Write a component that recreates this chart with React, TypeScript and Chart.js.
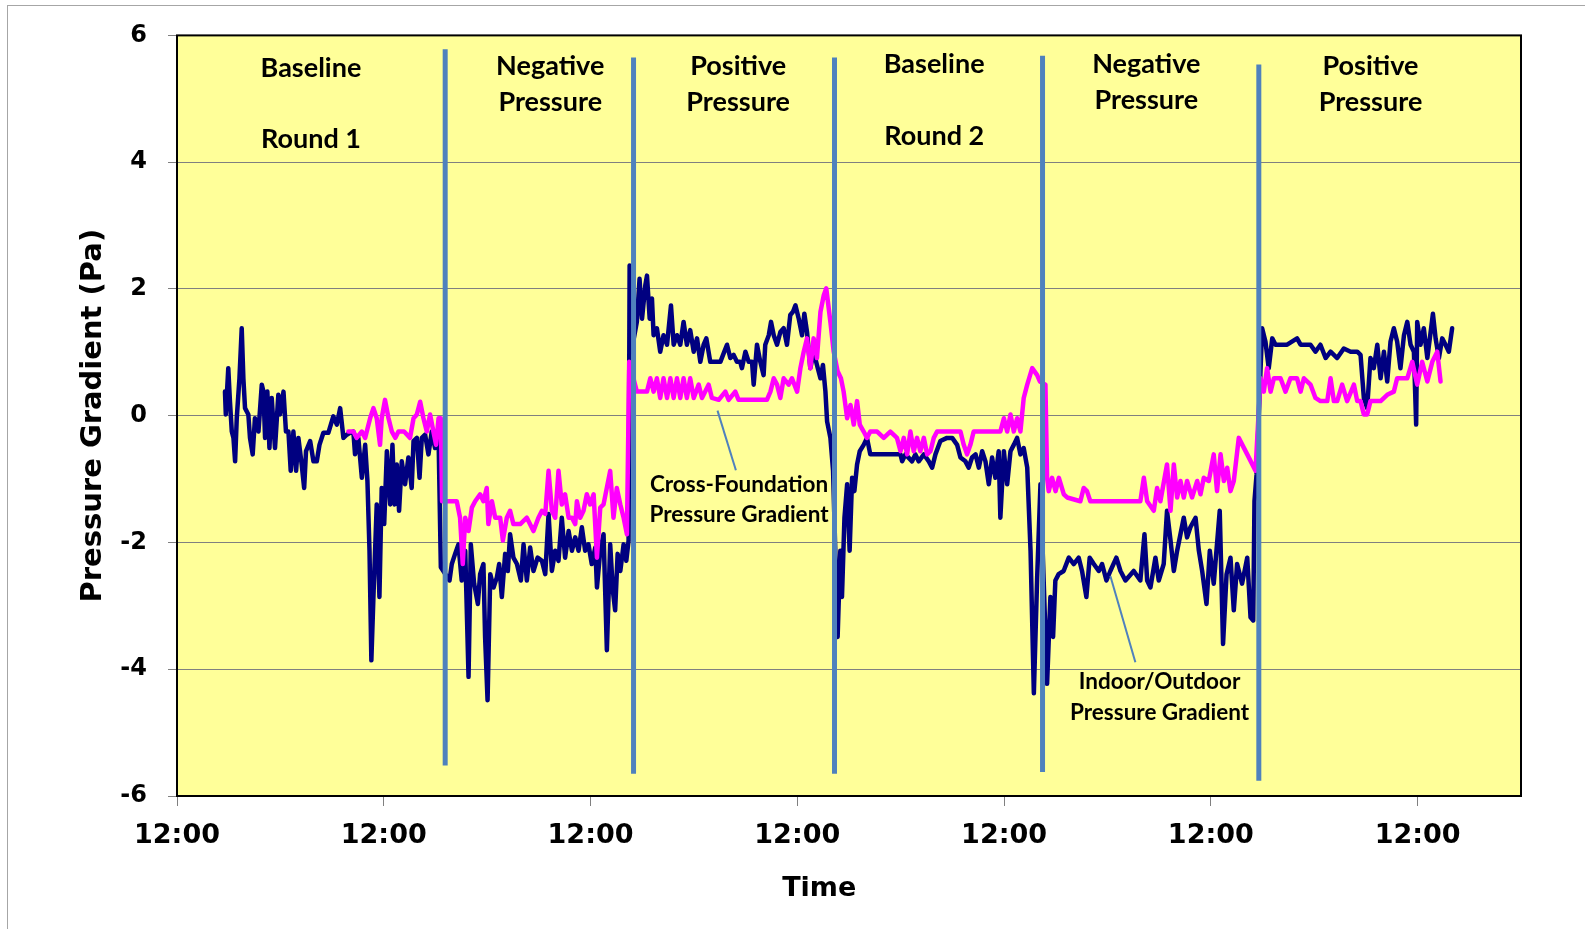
import React, { useEffect, useRef } from "react";
import { Chart, registerables } from "chart.js";

Chart.register(...registerables);

// ---------- DATA ----------
// x values are elapsed days since the first 12:00 tick
const xTickLabels = ["12:00", "12:00", "12:00", "12:00", "12:00", "12:00", "12:00"];

// Indoor/Outdoor pressure gradient (navy)
const ioTime = [
  0.232, 0.236, 0.248, 0.256, 0.265, 0.273, 0.281, 0.289, 0.302, 0.313,
  0.321, 0.329, 0.345, 0.353, 0.366, 0.377, 0.394, 0.41, 0.418, 0.426,
  0.437, 0.447, 0.458, 0.474, 0.49, 0.498, 0.515, 0.527, 0.539, 0.55,
  0.563, 0.576, 0.587, 0.603, 0.615, 0.624, 0.644, 0.66, 0.676, 0.689,
  0.708, 0.732, 0.756, 0.773, 0.789, 0.805, 0.821, 0.837, 0.853, 0.861,
  0.877, 0.894, 0.91, 0.921, 0.931, 0.94, 0.95, 0.966, 0.979, 0.99,
  1.002, 1.015, 1.031, 1.042, 1.052, 1.063, 1.074, 1.087, 1.103, 1.119,
  1.135, 1.144, 1.16, 1.173, 1.184, 1.2, 1.216, 1.232, 1.248, 1.265,
  1.276, 1.318, 1.329, 1.345, 1.361, 1.377, 1.394, 1.41, 1.421, 1.437,
  1.455, 1.466, 1.482, 1.49, 1.502, 1.515, 1.531, 1.547, 1.558, 1.571,
  1.587, 1.6, 1.611, 1.627, 1.644, 1.663, 1.676, 1.692, 1.708, 1.724,
  1.744, 1.765, 1.781, 1.797, 1.813, 1.829, 1.845, 1.861, 1.877, 1.894,
  1.91, 1.926, 1.942, 1.958, 1.974, 1.99, 2.006, 2.023, 2.031, 2.047,
  2.063, 2.079, 2.095, 2.108, 2.119, 2.131, 2.144, 2.16, 2.173, 2.184,
  2.189, 2.197, 2.224, 2.237, 2.249, 2.265, 2.273, 2.286, 2.297, 2.305,
  2.321, 2.337, 2.353, 2.37, 2.389, 2.402, 2.418, 2.434, 2.45, 2.466,
  2.482, 2.499, 2.515, 2.531, 2.547, 2.56, 2.579, 2.603, 2.628, 2.647,
  2.66, 2.676, 2.692, 2.708, 2.724, 2.732, 2.749, 2.765, 2.781, 2.789,
  2.805, 2.821, 2.837, 2.845, 2.862, 2.873, 2.886, 2.902, 2.918, 2.934,
  2.95, 2.966, 2.979, 2.991, 3.007, 3.023, 3.034, 3.047, 3.063, 3.079,
  3.095, 3.112, 3.124, 3.136, 3.144, 3.16, 3.173, 3.195, 3.208, 3.216,
  3.228, 3.241, 3.253, 3.265, 3.276, 3.289, 3.302, 3.321, 3.337, 3.353,
  3.386, 3.45, 3.499, 3.507, 3.523, 3.555, 3.571, 3.587, 3.612, 3.636,
  3.652, 3.668, 3.692, 3.724, 3.749, 3.773, 3.789, 3.813, 3.829, 3.845,
  3.862, 3.878, 3.894, 3.91, 3.926, 3.942, 3.958, 3.974, 3.982, 3.999,
  4.015, 4.031, 4.047, 4.063, 4.079, 4.095, 4.112, 4.128, 4.144, 4.16,
  4.176, 4.208, 4.224, 4.237, 4.248, 4.264, 4.288, 4.313, 4.337, 4.361,
  4.377, 4.398, 4.414, 4.434, 4.458, 4.474, 4.495, 4.514, 4.543, 4.563,
  4.587, 4.627, 4.659, 4.679, 4.692, 4.708, 4.732, 4.748, 4.772, 4.788,
  4.805, 4.821, 4.837, 4.853, 4.869, 4.885, 4.901, 4.926, 4.942, 4.958,
  4.979, 4.995, 5.014, 5.043, 5.059, 5.076, 5.095, 5.111, 5.127, 5.151,
  5.176, 5.192, 5.205, 5.211, 5.221, 5.248, 5.264, 5.28, 5.297, 5.313,
  5.369, 5.417, 5.434, 5.482, 5.506, 5.53, 5.555, 5.579, 5.611, 5.643,
  5.676, 5.708, 5.724, 5.74, 5.756, 5.772, 5.788, 5.805, 5.821, 5.837,
  5.853, 5.869, 5.885, 5.901, 5.917, 5.934, 5.95, 5.966, 5.982, 5.993,
  5.998, 6.014, 6.03, 6.047, 6.063, 6.074, 6.087, 6.103, 6.119, 6.135,
  6.151, 6.167,
];
const ioValue = [
  0.38, 0.02, 0.75, 0.23, -0.25, -0.35, -0.72, -0.04, 0.59, 1.38,
  0.59, 0.12, 0.02, -0.35, -0.61, -0.04, -0.25, 0.49, 0.38, -0.35,
  0.38, -0.51, 0.28, -0.51, 0.33, 0.02, 0.38, -0.25, -0.25, -0.87,
  -0.25, -0.87, -0.35, -0.77, -1.14, -0.56, -0.4, -0.72, -0.72, -0.46,
  -0.27, -0.27, -0.01, -0.14, 0.12, -0.35, -0.3, -0.27, -0.25, -0.61,
  -0.35, -0.98, -0.46, -1.03, -2.13, -3.86, -2.86, -1.4, -2.86, -1.14,
  -1.71, -0.56, -1.4, -0.46, -1.4, -0.77, -1.5, -0.72, -1.08, -0.66,
  -1.14, -0.4, -0.35, -0.98, -0.35, -0.3, -0.61, -0.25, -0.51, -0.35,
  -2.39, -2.6, -2.34, -2.18, -2.03, -2.6, -2.13, -4.12, -2.03, -2.65,
  -2.97, -2.5, -2.34, -3.49, -4.49, -2.5, -2.71, -2.55, -2.34, -2.86,
  -2.18, -2.45, -1.87, -2.24, -2.34, -2.6, -2.03, -2.6, -2.08, -2.45,
  -2.24, -2.29, -2.5, -1.55, -2.45, -2.13, -2.29, -1.61, -2.24, -1.82,
  -2.13, -1.92, -2.13, -1.76, -2.13, -2.03, -2.34, -2.08, -2.71, -2.13,
  -1.87, -3.7, -2.03, -2.76, -3.07, -2.18, -2.45, -2.03, -2.29, -1.97,
  2.37, 1.0, 1.48, 2.16, 1.53, 2.06, 2.21, 1.53, 1.85, 1.27,
  1.38, 1.01, 1.27, 1.12, 1.74, 1.12, 1.27, 1.12, 1.48, 1.12,
  1.35, 1.01, 1.22, 0.85, 1.12, 1.22, 0.85, 0.85, 0.85, 1.01,
  1.12, 0.91, 0.96, 0.85, 0.85, 0.75, 1.01, 0.85, 0.85, 0.49,
  1.12, 0.85, 0.64, 1.12, 1.27, 1.48, 1.27, 1.12, 1.32, 1.38,
  1.12, 1.59, 1.64, 1.74, 1.53, 1.27, 1.61, 1.32, 0.75, 1.01,
  0.8, 0.59, 0.8, 0.38, -0.09, -0.35, -0.87, -3.49, -2.13, -2.86,
  -1.61, -1.08, -2.13, -0.98, -1.19, -0.77, -0.56, -0.46, -0.35, -0.61,
  -0.61, -0.61, -0.61, -0.72, -0.61, -0.72, -0.61, -0.72, -0.61, -0.72,
  -0.82, -0.61, -0.4, -0.35, -0.35, -0.46, -0.66, -0.72, -0.82, -0.66,
  -0.61, -0.82, -0.56, -0.72, -1.08, -0.66, -0.98, -0.56, -1.61, -0.56,
  -1.08, -0.56, -0.46, -0.35, -0.61, -0.51, -0.82, -2.13, -4.38, -2.55,
  -1.08, -4.23, -2.86, -3.49, -2.6, -2.5, -2.45, -2.24, -2.34, -2.24,
  -2.45, -2.86, -2.24, -2.34, -2.45, -2.34, -2.6, -2.45, -2.24, -2.45,
  -2.6, -2.45, -2.6, -1.87, -2.6, -2.71, -2.24, -2.6, -2.34, -1.5,
  -1.97, -2.45, -2.13, -1.87, -1.61, -1.92, -1.76, -1.61, -2.13, -2.45,
  -2.97, -2.13, -2.65, -1.5, -3.6, -2.5, -2.24, -3.07, -2.34, -2.65,
  -2.24, -3.18, -3.23, -1.35, -0.93, 1.38, 1.17, 0.75, 1.22, 1.12,
  1.12, 1.22, 1.12, 1.12, 1.01, 1.12, 0.91, 1.01, 0.91, 1.06,
  1.01, 1.01, 0.96, 0.28, 0.12, 0.91, 0.75, 1.12, 0.59, 1.01,
  0.54, 1.17, 1.38, 1.17, 0.75, 1.27, 1.48, 1.12, 1.01, -0.14,
  1.48, 1.12, 1.38, 0.91, 1.32, 1.61, 1.22, 0.91, 1.22, 1.12,
  1.01, 1.38,
];

// Cross-foundation pressure gradient (magenta)
const cfTime = [
  0.829, 0.853, 0.869, 0.894, 0.91, 0.934, 0.95, 0.966, 0.982, 0.99,
  1.006, 1.023, 1.039, 1.056, 1.071, 1.098, 1.127, 1.144, 1.16, 1.176,
  1.192, 1.208, 1.224, 1.24, 1.253, 1.265, 1.276, 1.282, 1.313, 1.353,
  1.369, 1.382, 1.394, 1.41, 1.426, 1.442, 1.466, 1.482, 1.498, 1.506,
  1.523, 1.539, 1.563, 1.576, 1.595, 1.611, 1.627, 1.66, 1.692, 1.724,
  1.748, 1.765, 1.781, 1.797, 1.813, 1.829, 1.845, 1.861, 1.877, 1.894,
  1.91, 1.926, 1.934, 1.95, 1.966, 1.982, 1.998, 2.015, 2.031, 2.047,
  2.063, 2.095, 2.111, 2.127, 2.144, 2.16, 2.176, 2.187, 2.224, 2.273,
  2.289, 2.305, 2.321, 2.337, 2.353, 2.37, 2.386, 2.402, 2.418, 2.434,
  2.45, 2.466, 2.482, 2.499, 2.523, 2.539, 2.571, 2.587, 2.62, 2.652,
  2.668, 2.7, 2.716, 2.773, 2.853, 2.87, 2.886, 2.902, 2.918, 2.934,
  2.958, 2.974, 2.999, 3.015, 3.031, 3.047, 3.063, 3.079, 3.095, 3.112,
  3.128, 3.14, 3.16, 3.176, 3.195, 3.211, 3.224, 3.241, 3.257, 3.273,
  3.289, 3.302, 3.321, 3.337, 3.353, 3.386, 3.418, 3.45, 3.482, 3.499,
  3.515, 3.531, 3.547, 3.563, 3.579, 3.595, 3.612, 3.628, 3.644, 3.66,
  3.676, 3.74, 3.789, 3.805, 3.821, 3.837, 3.853, 3.918, 3.982, 3.999,
  4.015, 4.031, 4.047, 4.063, 4.079, 4.095, 4.112, 4.136, 4.16, 4.173,
  4.2, 4.208, 4.216, 4.232, 4.249, 4.265, 4.289, 4.305, 4.369, 4.385,
  4.401, 4.417, 4.659, 4.676, 4.692, 4.724, 4.74, 4.756, 4.788, 4.805,
  4.821, 4.837, 4.853, 4.869, 4.885, 4.909, 4.934, 4.95, 4.966, 4.99,
  5.014, 5.03, 5.047, 5.063, 5.079, 5.095, 5.111, 5.135, 5.176, 5.216,
  5.24, 5.256, 5.272, 5.289, 5.305, 5.337, 5.361, 5.385, 5.417, 5.434,
  5.45, 5.482, 5.506, 5.53, 5.563, 5.579, 5.595, 5.611, 5.635, 5.659,
  5.692, 5.708, 5.724, 5.74, 5.756, 5.772, 5.821, 5.853, 5.885, 5.901,
  5.95, 5.974, 5.998, 6.022, 6.047, 6.071, 6.095, 6.111,
];
const cfValue = [
  -0.25, -0.25, -0.35, -0.25, -0.35, -0.04, 0.12, -0.04, -0.46, -0.04,
  0.25, -0.04, -0.25, -0.35, -0.25, -0.25, -0.35, -0.04, 0.02, 0.22,
  -0.04, -0.25, 0.02, -0.25, -0.46, -0.04, -0.04, -1.35, -1.35, -1.35,
  -1.61, -2.34, -1.61, -1.82, -1.45, -1.35, -1.24, -1.35, -1.14, -1.71,
  -1.35, -1.61, -1.61, -1.97, -1.61, -1.5, -1.71, -1.71, -1.61, -1.82,
  -1.61, -1.5, -1.55, -0.87, -1.5, -1.61, -0.87, -1.4, -1.24, -1.61,
  -1.61, -1.71, -1.35, -1.61, -1.5, -1.24, -1.4, -1.24, -2.24, -1.45,
  -1.4, -0.87, -1.61, -1.14, -1.4, -1.61, -1.87, 0.85, 0.38, 0.38,
  0.59, 0.38, 0.59, 0.28, 0.59, 0.28, 0.59, 0.28, 0.59, 0.28,
  0.59, 0.28, 0.59, 0.28, 0.49, 0.28, 0.49, 0.28, 0.25, 0.38,
  0.25, 0.38, 0.25, 0.25, 0.25, 0.38, 0.59, 0.49, 0.28, 0.59,
  0.49, 0.59, 0.38, 0.75, 1.01, 1.22, 0.75, 1.22, 0.91, 1.64,
  1.9, 2.01, 1.48, 1.01, 0.7, 0.59, 0.38, -0.04, 0.17, -0.14,
  0.23, -0.14, -0.25, -0.35, -0.25, -0.25, -0.35, -0.25, -0.35, -0.56,
  -0.35, -0.61, -0.25, -0.56, -0.35, -0.56, -0.35, -0.61, -0.56, -0.35,
  -0.25, -0.25, -0.25, -0.46, -0.61, -0.46, -0.25, -0.25, -0.25, -0.04,
  -0.25, 0.02, -0.25, -0.04, -0.25, 0.28, 0.49, 0.75, 0.64, 0.54,
  0.49, -0.98, -1.19, -0.98, -1.19, -0.98, -1.24, -1.29, -1.35, -1.14,
  -1.19, -1.35, -1.35, -0.98, -1.35, -1.5, -1.14, -1.35, -0.77, -1.5,
  -0.77, -1.29, -1.03, -1.29, -1.03, -1.29, -1.03, -1.24, -0.98, -1.03,
  -0.61, -1.19, -0.61, -1.03, -0.82, -1.19, -1.03, -0.35, -0.61, -0.87,
  0.59, 0.38, 0.75, 0.38, 0.59, 0.59, 0.38, 0.59, 0.59, 0.38,
  0.59, 0.49, 0.28, 0.23, 0.23, 0.59, 0.23, 0.23, 0.49, 0.23,
  0.49, 0.23, 0.23, 0.02, 0.02, 0.23, 0.23, 0.33, 0.38, 0.59,
  0.59, 0.85, 0.49, 0.85, 0.54, 0.85, 1.01, 0.54,
];

// Phase separators (days) and their vertical extent (Pa)
const phaseBoundaryTime = [1.297, 2.208, 3.18, 4.186, 5.232];
const phaseBoundaryTop = [5.78, 5.65, 5.65, 5.68, 5.54];
const phaseBoundaryBottom = [-5.52, -5.65, -5.65, -5.62, -5.76];

// Phase titles
const phaseTitleLine1 = ["Baseline", "Negative", "Positive", "Baseline", "Negative", "Positive"];
const phaseTitleLine2 = ["Round 1", "Pressure", "Pressure", "Round 2", "Pressure", "Pressure"];

const xAxisTitle = "Time";
const yAxisTitle = "Pressure Gradient (Pa)";

// ---------- LAYOUT / STYLE CONFIG ----------
const phaseTitleAnchor = {
  time: [0.648, 1.805, 2.714, 3.662, 4.688, 5.772],
  line1: [5.48, 5.52, 5.51, 5.54, 5.54, 5.52],
  line2: [4.36, 4.95, 4.94, 4.41, 4.97, 4.95],
};

const callouts = [
  {
    lines: ["Cross-Foundation", "Pressure Gradient"],
    textTime: 2.718,
    textValue: [-1.09, -1.56],
    leaderFrom: { x: 2.614, y: 0.08 },
    leaderTo: { x: 2.703, y: -0.86 },
  },
  {
    lines: ["Indoor/Outdoor", "Pressure Gradient"],
    textTime: 4.752,
    textValue: [-4.2, -4.68],
    leaderFrom: { x: 4.514, y: -2.53 },
    leaderTo: { x: 4.635, y: -3.89 },
  },
];

// "Time" title sits left of the axis centre in the reference
const xTitleAnchorTime = 3.106;

const TICK_FONT = "DejaVu Sans";
const NOTE_FONT = "Lato";

const pts = (t: number[], v: number[]) =>
  t.slice(0, Math.min(t.length, v.length)).map((x, i) => ({ x, y: v[i] }));

export default function App() {
  const canvasRef = useRef<HTMLCanvasElement | null>(null);

  useEffect(() => {
    const canvas = canvasRef.current;
    if (!canvas) return;

    const notesPlugin = {
      id: "notesPlugin",
      beforeDraw(chart: any) {
        const { ctx, chartArea } = chart;
        ctx.save();
        ctx.fillStyle = "#FFFF99";
        ctx.fillRect(chartArea.left, chartArea.top, chartArea.right - chartArea.left, chartArea.bottom - chartArea.top);
        ctx.restore();
      },
      afterDatasetsDraw(chart: any) {
        const { ctx, chartArea, scales } = chart;
        const xs = scales.x;
        const ys = scales.y;
        ctx.save();
        ctx.fillStyle = "#000";
        ctx.textAlign = "center";
        ctx.textBaseline = "middle";
        ctx.font = `bold 27px ${NOTE_FONT}`;
        phaseTitleLine1.forEach((txt, i) => {
          const px = xs.getPixelForValue(phaseTitleAnchor.time[i]);
          ctx.fillText(txt, px, ys.getPixelForValue(phaseTitleAnchor.line1[i]));
          ctx.fillText(phaseTitleLine2[i], px, ys.getPixelForValue(phaseTitleAnchor.line2[i]));
        });
        ctx.font = `bold 22.5px ${NOTE_FONT}`;
        callouts.forEach((c) => {
          const px = xs.getPixelForValue(c.textTime);
          c.lines.forEach((l, j) => ctx.fillText(l, px, ys.getPixelForValue(c.textValue[j])));
        });
        ctx.lineWidth = 2;
        ctx.strokeStyle = "#000";
        ctx.strokeRect(chartArea.left, chartArea.top, chartArea.right - chartArea.left, chartArea.bottom - chartArea.top);
        // x axis title, placed within the x axis box
        ctx.font = `bold 27px ${TICK_FONT}`;
        ctx.fillText(xAxisTitle, xs.getPixelForValue(xTitleAnchorTime), xs.bottom - 18);
        ctx.restore();
      },
    };

    const separatorSets = phaseBoundaryTime.map((t, i) => ({
      label: `sep${i}`,
      data: [
        { x: t, y: phaseBoundaryTop[i] },
        { x: t, y: phaseBoundaryBottom[i] },
      ],
      borderColor: "#4F81BD",
      borderWidth: 5,
      pointRadius: 0,
      borderCapStyle: "butt",
    }));
    const leaderSets = callouts.map((c, i) => ({
      label: `leader${i}`,
      data: [c.leaderFrom, c.leaderTo],
      borderColor: "#4F81BD",
      borderWidth: 2,
      pointRadius: 0,
    }));

    const chart = new Chart(canvas, {
      type: "line",
      data: {
        datasets: [
          ...separatorSets,
          ...leaderSets,
          {
            label: "Cross-Foundation Pressure Gradient",
            data: pts(cfTime, cfValue),
            borderColor: "#FF00FF",
            borderWidth: 4.5,
            pointRadius: 0,
            borderJoinStyle: "round",
            borderCapStyle: "round",
          },
          {
            label: "Indoor/Outdoor Pressure Gradient",
            data: pts(ioTime, ioValue),
            borderColor: "#000080",
            borderWidth: 4.5,
            pointRadius: 0,
            borderJoinStyle: "round",
            borderCapStyle: "round",
          },
        ] as any,
      },
      options: {
        responsive: false,
        animation: false,
        events: [],
        layout: { padding: { left: 0, top: 33, right: 64, bottom: 22 } },
        plugins: {
          legend: { display: false },
          tooltip: { enabled: false },
        },
        scales: {
          x: {
            type: "linear",
            min: 0,
            max: 6.5,
            afterBuildTicks: (s: any) => {
              s.ticks = s.ticks.filter((t: any) => Number.isInteger(t.value));
            },
            afterFit: (s: any) => {
              s.height = 111;
            },
            ticks: {
              stepSize: 1,
              autoSkip: false,
              maxRotation: 0,
              padding: 14,
              color: "#000",
              font: { family: TICK_FONT, weight: "bold", size: 27 },
              callback: (v: any) => xTickLabels[Math.round(Number(v))] ?? "",
            },
            grid: { drawOnChartArea: false, drawTicks: true, tickLength: 10, color: "#808080" },
            border: { display: false },
            title: { display: false },
          },
          y: {
            type: "linear",
            min: -6,
            max: 6,
            afterFit: (s: any) => {
              s.width = 177;
            },
            ticks: {
              stepSize: 2,
              padding: 21,
              color: "#000",
              font: { family: TICK_FONT, weight: "bold", size: 24 },
            },
            grid: { color: "#808080", lineWidth: 1, tickLength: 9, drawTicks: true },
            border: { display: false },
            title: {
              display: true,
              text: yAxisTitle,
              color: "#000",
              font: { family: TICK_FONT, weight: "bold", size: 29 },
              padding: { top: 76, bottom: 0 },
            },
          },
        },
      } as any,
      plugins: [notesPlugin],
    });

    return () => chart.destroy();
  }, []);

  return (
    <div style={{ position: "fixed", left: 0, top: 0, width: 1585, height: 929, background: "#fff", overflow: "hidden" }}>
      <div
        style={{
          position: "absolute",
          left: 7,
          top: 5,
          width: 1600,
          height: 940,
          borderLeft: "1px solid #A6A6A6",
          borderTop: "1px solid #A6A6A6",
        }}
      />
      <canvas ref={canvasRef} width={1585} height={929} style={{ position: "absolute", left: 0, top: 0, display: "block" }} />
    </div>
  );
}
